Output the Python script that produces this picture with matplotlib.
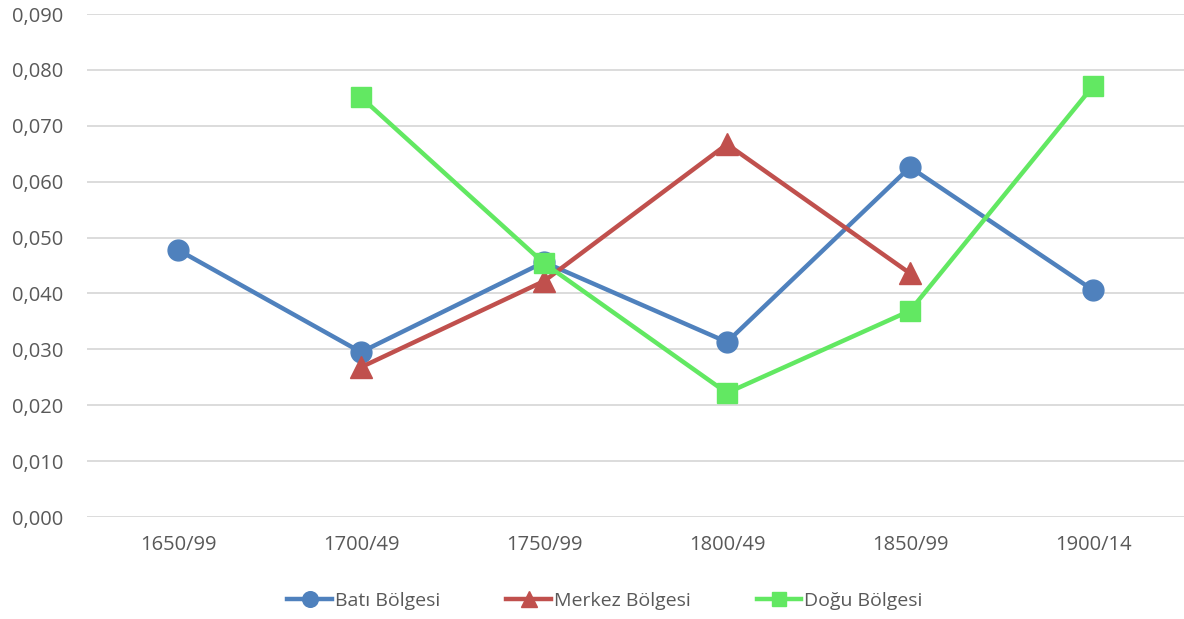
import matplotlib
matplotlib.use("Agg")
import matplotlib.pyplot as plt
import numpy as np

categories = ["1650/99", "1700/49", "1750/99", "1800/49", "1850/99", "1900/14"]
bati = [0.0478, 0.0295, 0.0456, 0.0313, 0.0626, 0.0406]
merkez = [np.nan, 0.0268, 0.0422, 0.0667, 0.0436, np.nan]
dogu = [np.nan, 0.0751, 0.0454, 0.0222, 0.0369, 0.0771]
yticks = [0.0, 0.01, 0.02, 0.03, 0.04, 0.05, 0.06, 0.07, 0.08, 0.09]

plt.rcParams['font.family'] = ['Open Sans', 'DejaVu Sans']

fig = plt.figure(figsize=(11.84, 6.19), dpi=100)
ax = fig.add_axes([86.5/1184, 1 - 517/619, (1184.5 - 86.5)/1184, (517 - 14)/619])

x = np.arange(len(categories))
ax.plot(x, bati, color="#4F81BD", lw=3.2, marker="o", ms=15, label="Batı Bölgesi", zorder=3)
ax.plot(x, merkez, color="#C0504D", lw=3.2, marker="^", ms=16, label="Merkez Bölgesi", zorder=4)
ax.plot(x, dogu, color="#62E862", lw=3.2, marker="s", ms=14, label="Doğu Bölgesi", zorder=5)

ax.set_xlim(-0.5, len(categories) - 0.5)
ax.set_ylim(0, 0.09)
ax.set_yticks(yticks)
ax.set_yticklabels([f"{v:.3f}".replace(".", ",") for v in yticks])
ax.set_xticks(x)
ax.set_xticklabels(categories)
ax.grid(axis="y", color="#D9D9D9", lw=1.3)
ax.set_axisbelow(True)
for s in ax.spines.values():
    s.set_visible(False)
ax.tick_params(length=0, labelsize=14.5, colors="#595959")
ax.tick_params(axis="y", pad=17)
ax.tick_params(axis="x", pad=13)

leg = fig.legend(loc="center", bbox_to_anchor=(0.511, 1 - 601/619), ncol=3, frameon=False,
                 fontsize=14, handlelength=2.3, columnspacing=3.4, handletextpad=0.15, markerscale=0.75)
for t in leg.get_texts():
    t.set_color("#595959")

fig.savefig("out.png", dpi=100)
